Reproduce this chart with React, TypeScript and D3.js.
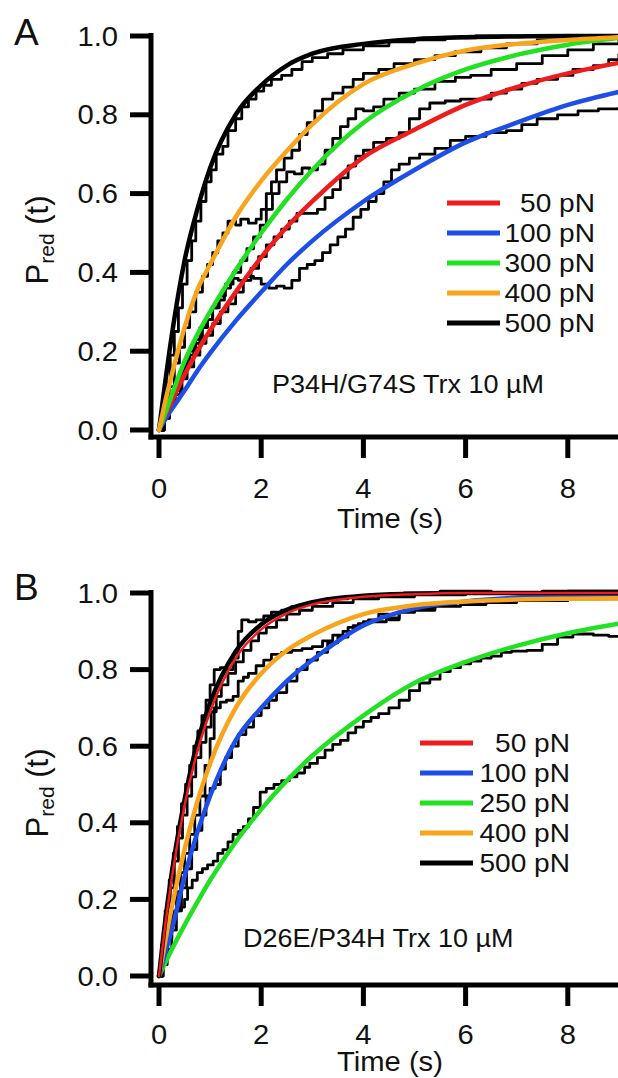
import React from 'react'
import * as d3 from 'd3'

const W = 618
const H = 1078
const FONT = '"Liberation Sans", Arial, Helvetica, sans-serif'

// time grid shared by every fitted curve (s)
const fitTimes = [0, 0.1, 0.25, 0.5, 0.75, 1, 1.5, 2, 2.5, 3, 4, 5, 6, 7, 8, 9]
const yTicks = [0, 0.2, 0.4, 0.6, 0.8, 1.0]
const xTicks = [0, 2, 4, 6, 8]

// ---- panel A: P34H/G74S ----
const labelsA = ['50 pN', '100 pN', '300 pN', '400 pN', '500 pN']
const fitA50 = [0, 0.03, 0.072, 0.14, 0.2, 0.253, 0.35, 0.438, 0.515, 0.58, 0.692, 0.762, 0.825, 0.87, 0.905, 0.932]
const fitA100 = [0, 0.022, 0.053, 0.1, 0.15, 0.195, 0.277, 0.35, 0.42, 0.48, 0.58, 0.66, 0.73, 0.78, 0.825, 0.858]
const fitA300 = [0, 0.035, 0.089, 0.174, 0.242, 0.3, 0.405, 0.5, 0.585, 0.66, 0.78, 0.86, 0.915, 0.952, 0.978, 0.995]
const fitA400 = [0, 0.06, 0.14, 0.26, 0.355, 0.42, 0.54, 0.632, 0.708, 0.776, 0.878, 0.929, 0.963, 0.98, 0.99, 0.997]
const fitA500 = [0, 0.1, 0.24, 0.43, 0.56, 0.665, 0.8, 0.875, 0.925, 0.955, 0.98, 0.992, 0.997, 0.999, 1, 1]

// staircase traces, [time, P]
const traceA500 = [[0,0],[0.08,0.05],[0.15,0.12],[0.22,0.19],[0.3,0.25],[0.38,0.31],[0.46,0.37],[0.55,0.43],[0.64,0.48],[0.72,0.53],[0.82,0.58],[0.92,0.63],[1.02,0.66],[1.12,0.7],[1.25,0.72],[1.35,0.76],[1.5,0.79],[1.62,0.82],[1.75,0.84],[1.9,0.86],[2.05,0.875],[2.2,0.89],[2.4,0.9],[2.6,0.915],[2.8,0.935],[3.0,0.945],[3.3,0.955],[3.6,0.965],[4.0,0.975],[4.5,0.985],[5.0,0.99],[5.6,0.995],[6.2,1.0],[9,1.0]]
const traceA400 = [[0,0],[0.1,0.05],[0.2,0.11],[0.3,0.17],[0.4,0.21],[0.5,0.26],[0.6,0.3],[0.72,0.35],[0.85,0.39],[0.95,0.42],[1.05,0.45],[1.15,0.48],[1.25,0.5],[1.35,0.53],[1.5,0.52],[1.6,0.535],[1.75,0.525],[1.9,0.535],[2.0,0.56],[2.1,0.6],[2.2,0.63],[2.3,0.66],[2.45,0.69],[2.6,0.71],[2.75,0.75],[2.9,0.78],[3.05,0.81],[3.2,0.84],[3.4,0.855],[3.6,0.87],[3.8,0.89],[4.0,0.905],[4.3,0.915],[4.6,0.93],[5.0,0.94],[5.4,0.95],[5.8,0.96],[6.3,0.97],[6.8,0.98],[7.4,0.99],[8,1.0],[9,1.0]]
const traceA300 = [[0,0],[0.1,0.03],[0.2,0.07],[0.32,0.1],[0.45,0.15],[0.55,0.19],[0.68,0.22],[0.8,0.26],[0.92,0.28],[1.05,0.31],[1.18,0.34],[1.3,0.37],[1.45,0.4],[1.6,0.43],[1.72,0.46],[1.85,0.49],[1.98,0.52],[2.1,0.56],[2.22,0.6],[2.35,0.63],[2.5,0.655],[2.65,0.65],[2.8,0.665],[2.95,0.66],[3.1,0.675],[3.25,0.71],[3.4,0.74],[3.55,0.77],[3.7,0.79],[3.85,0.815],[4.0,0.81],[4.2,0.82],[4.4,0.84],[4.7,0.855],[5.0,0.865],[5.4,0.885],[5.8,0.895],[6.1,0.9],[6.5,0.915],[7.0,0.93],[7.5,0.95],[8.0,0.965],[8.5,0.98],[9,0.99]]
const traceA100 = [[0,0],[0.1,0.03],[0.2,0.07],[0.3,0.1],[0.4,0.14],[0.5,0.17],[0.6,0.2],[0.72,0.23],[0.85,0.26],[0.95,0.28],[1.05,0.31],[1.15,0.33],[1.28,0.36],[1.4,0.385],[1.55,0.38],[1.7,0.39],[1.85,0.385],[2.0,0.37],[2.15,0.36],[2.3,0.365],[2.45,0.36],[2.6,0.38],[2.75,0.41],[2.9,0.42],[3.05,0.43],[3.2,0.45],[3.35,0.47],[3.5,0.49],[3.65,0.51],[3.8,0.54],[3.95,0.56],[4.1,0.58],[4.25,0.6],[4.4,0.63],[4.55,0.66],[4.7,0.675],[4.9,0.69],[5.1,0.7],[5.4,0.715],[5.7,0.735],[6.0,0.745],[6.4,0.755],[6.8,0.76],[7.1,0.775],[7.4,0.79],[7.8,0.8],[8.2,0.81],[8.6,0.815],[9,0.82]]
const traceA50 = [[0,0],[0.1,0.03],[0.2,0.06],[0.3,0.09],[0.42,0.13],[0.55,0.16],[0.68,0.19],[0.8,0.22],[0.92,0.24],[1.05,0.27],[1.2,0.3],[1.35,0.32],[1.5,0.35],[1.65,0.38],[1.8,0.41],[1.95,0.44],[2.1,0.47],[2.25,0.49],[2.4,0.51],[2.55,0.53],[2.7,0.55],[2.9,0.55],[3.1,0.56],[3.25,0.59],[3.4,0.61],[3.55,0.64],[3.7,0.67],[3.85,0.695],[4.0,0.71],[4.2,0.73],[4.45,0.74],[4.7,0.755],[4.9,0.79],[5.1,0.815],[5.3,0.83],[5.6,0.835],[5.9,0.84],[6.2,0.84],[6.5,0.855],[6.8,0.865],[7.1,0.88],[7.4,0.89],[7.8,0.9],[8.1,0.915],[8.5,0.925],[8.8,0.94],[9,0.955]]

// ---- panel B: D26E/P34H ----
const labelsB = ['50 pN', '100 pN', '250 pN', '400 pN', '500 pN']
const fitB50 = [0, 0.11, 0.255, 0.445, 0.586, 0.69, 0.83, 0.905, 0.947, 0.97, 0.99, 0.997, 1, 1, 1, 1]
const fitB100 = [0, 0.05, 0.12, 0.26, 0.375, 0.47, 0.615, 0.7, 0.77, 0.825, 0.915, 0.96, 0.978, 0.988, 0.994, 0.997]
const fitB250 = [0, 0.028, 0.069, 0.133, 0.193, 0.25, 0.35, 0.435, 0.51, 0.575, 0.68, 0.765, 0.82, 0.862, 0.895, 0.92]
const fitB400 = [0, 0.075, 0.18, 0.33, 0.455, 0.555, 0.7, 0.79, 0.85, 0.89, 0.945, 0.968, 0.978, 0.983, 0.985, 0.986]
const fitB500 = [0, 0.12, 0.27, 0.46, 0.61, 0.713, 0.847, 0.918, 0.956, 0.976, 0.993, 0.998, 1, 1, 1, 1]

const traceB500 = [[0,0],[0.05,0.08],[0.12,0.17],[0.2,0.25],[0.28,0.32],[0.36,0.39],[0.44,0.45],[0.52,0.5],[0.6,0.55],[0.68,0.6],[0.76,0.64],[0.84,0.68],[0.92,0.72],[1.0,0.76],[1.08,0.8],[1.2,0.805],[1.32,0.8],[1.45,0.83],[1.55,0.9],[1.62,0.93],[1.75,0.925],[1.9,0.93],[2.05,0.94],[2.2,0.95],[2.4,0.955],[2.6,0.965],[2.8,0.97],[3.0,0.975],[3.3,0.985],[3.7,0.99],[4.2,0.995],[4.8,1.0],[5.5,1.005],[6.5,1.0],[7.5,1.005],[9,1.0]]
const traceB50 = [[0,0],[0.06,0.07],[0.14,0.15],[0.22,0.23],[0.3,0.3],[0.38,0.36],[0.46,0.42],[0.55,0.47],[0.64,0.52],[0.72,0.57],[0.82,0.61],[0.92,0.65],[1.02,0.69],[1.12,0.73],[1.22,0.76],[1.35,0.79],[1.5,0.82],[1.65,0.85],[1.8,0.875],[1.95,0.895],[2.1,0.91],[2.3,0.93],[2.5,0.945],[2.75,0.955],[3.0,0.965],[3.4,0.975],[3.8,0.985],[4.3,0.99],[5,0.995],[6,1.0],[7,1.0],[8,1.005],[9,1.0]]
const traceB400 = [[0,0],[0.08,0.04],[0.16,0.1],[0.25,0.16],[0.34,0.22],[0.42,0.27],[0.5,0.32],[0.6,0.37],[0.7,0.42],[0.8,0.47],[0.9,0.55],[1.0,0.62],[1.08,0.7],[1.2,0.715],[1.32,0.72],[1.45,0.73],[1.55,0.77],[1.65,0.78],[1.75,0.79],[1.9,0.81],[2.05,0.825],[2.2,0.84],[2.4,0.845],[2.6,0.85],[2.8,0.855],[3.0,0.86],[3.2,0.875],[3.4,0.89],[3.6,0.9],[3.8,0.915],[4.0,0.925],[4.2,0.925],[4.45,0.935],[4.7,0.95],[5.0,0.955],[5.4,0.965],[5.9,0.97],[6.4,0.975],[7.0,0.98],[8.0,0.985],[9,0.985]]
const traceB100 = [[0,0],[0.08,0.03],[0.16,0.07],[0.25,0.12],[0.34,0.17],[0.44,0.23],[0.54,0.28],[0.64,0.33],[0.74,0.38],[0.84,0.42],[0.92,0.47],[1.0,0.49],[1.1,0.5],[1.2,0.54],[1.3,0.57],[1.42,0.6],[1.55,0.63],[1.7,0.65],[1.85,0.68],[2.0,0.7],[2.15,0.72],[2.3,0.74],[2.5,0.77],[2.7,0.8],[2.9,0.825],[3.1,0.845],[3.3,0.87],[3.5,0.885],[3.7,0.91],[3.9,0.92],[4.1,0.93],[4.3,0.945],[4.5,0.93],[4.7,0.95],[5.0,0.96],[5.4,0.97],[5.8,0.975],[6.2,0.98],[6.8,0.985],[7.6,0.99],[8.5,0.995],[9,0.995]]
const traceB250 = [[0,0],[0.05,0.04],[0.1,0.08],[0.16,0.12],[0.22,0.16],[0.3,0.17],[0.4,0.18],[0.5,0.2],[0.56,0.23],[0.65,0.25],[0.75,0.27],[0.85,0.28],[0.95,0.29],[1.06,0.3],[1.15,0.32],[1.25,0.33],[1.35,0.35],[1.45,0.37],[1.55,0.38],[1.65,0.39],[1.75,0.41],[1.85,0.44],[1.98,0.48],[2.1,0.49],[2.25,0.5],[2.4,0.51],[2.55,0.52],[2.7,0.53],[2.85,0.545],[2.95,0.555],[3.1,0.57],[3.25,0.59],[3.4,0.605],[3.55,0.615],[3.7,0.635],[3.85,0.65],[4.0,0.665],[4.15,0.675],[4.3,0.685],[4.5,0.7],[4.7,0.72],[4.9,0.745],[5.1,0.765],[5.3,0.775],[5.5,0.795],[5.7,0.805],[5.9,0.815],[6.1,0.822],[6.3,0.83],[6.5,0.835],[6.7,0.845],[6.9,0.848],[7.2,0.85],[7.5,0.866],[7.8,0.885],[8.1,0.893],[8.5,0.89],[8.8,0.887],[9,0.885]]

const seriesColors = ['#ee1c1c', '#1d4fe8', '#22e022', '#f8a51e', '#000000']

const panels = [
  {
    letter: 'A', letterY: 45, yTop: 36, yZero: 430, xAxisGap: 7, tickLabelDy: 61, titleDy: 91,
    note: 'P34H/G74S Trx 10 \u00b5M', noteX: 272, noteY: 393,
    legendX: 447, legendY: 203, legendTextX: 595, labelY: 240,
    labels: labelsA, fits: [fitA50, fitA100, fitA300, fitA400, fitA500],
    traces: [traceA50, traceA100, traceA300, traceA400, traceA500],
    fitOrder: [4, 1, 0, 2, 3], redWidth: 4.5,
  },
  {
    letter: 'B', letterY: 600, yTop: 593, yZero: 976, xAxisGap: 9, tickLabelDy: 59, titleDy: 86,
    note: 'D26E/P34H Trx 10 \u00b5M', noteX: 243, noteY: 947,
    legendX: 420, legendY: 743, legendTextX: 570, labelY: 793,
    labels: labelsB, fits: [fitB50, fitB100, fitB250, fitB400, fitB500],
    traces: [traceB50, traceB100, traceB250, traceB400, traceB500],
    fitOrder: [2, 1, 3, 4, 0], redWidth: 2.5,
  },
]

const x = d3.scaleLinear().domain([0, 9]).range([159, 159 + 9 * 51.1])

// the source figure's lettering is slightly wider than the installed Arial metrics
const wide = (cx: number, cy: number) => `translate(${cx},${cy}) scale(1.08,1) translate(${-cx},${-cy})`

function Panel({ p }: { p: any }) {
  const y = d3.scaleLinear().domain([0, 1]).range([p.yZero, p.yTop])
  const fitLine = d3.line<number>()
    .x((_, i) => x(fitTimes[i]))
    .y(d => y(d))
    .curve(d3.curveMonotoneX)
  const stepLine = d3.line<number[]>()
    .x(d => x(d[0]))
    .y(d => y(d[1]))
    .curve(d3.curveStepAfter)
  const axisX = x(0) - 8
  const axisY = p.yZero + p.xAxisGap

  return (
    <g fontFamily={FONT} fill="#111">
      {/* data traces */}
      {p.traces.map((tr: number[][], i: number) => (
        <path key={'t' + i} d={stepLine(tr) || ''} fill="none" stroke="#000" strokeWidth={2.8} strokeLinejoin="round" />
      ))}
      {/* fits */}
      {p.fitOrder.map((i: number) => (
        <path key={'f' + i} d={fitLine(p.fits[i]) || ''} fill="none" stroke={seriesColors[i]}
          strokeWidth={i === 0 ? p.redWidth : 4.5} strokeLinecap="round" />
      ))}

      {/* y axis */}
      <line x1={axisX} x2={axisX} y1={p.yTop - 3} y2={axisY + 2.5} stroke="#000" strokeWidth={5} />
      {yTicks.map(t => (
        <g key={'y' + t}>
          <line x1={axisX - 21} x2={axisX} y1={y(t)} y2={y(t)} stroke="#000" strokeWidth={5} />
          <text x={118} y={y(t) + 9.7} fontSize={27} textAnchor="end" transform={wide(118, y(t))}>
            {d3.format('.1f')(t)}
          </text>
        </g>
      ))}
      {/* x axis */}
      <line x1={axisX - 2.5} x2={W + 2} y1={axisY} y2={axisY} stroke="#000" strokeWidth={5} />
      {xTicks.map(t => (
        <g key={'x' + t}>
          <line x1={x(t)} x2={x(t)} y1={axisY} y2={axisY + 21} stroke="#000" strokeWidth={5} />
          <text x={x(t)} y={axisY + p.tickLabelDy} fontSize={27} textAnchor="middle"
            transform={wide(x(t), axisY)}>{t}</text>
        </g>
      ))}
      <text x={390} y={axisY + p.titleDy} fontSize={27} textAnchor="middle"
        transform={wide(390, axisY)}>Time (s)</text>

      {/* y label */}
      <text transform={`translate(48,${p.labelY}) rotate(-90)`} fontSize={31} textAnchor="middle">
        P<tspan fontSize={21} dy={6}>red</tspan><tspan dy={-6}> (t)</tspan>
      </text>

      <text x={14} y={p.letterY} fontSize={37}>{p.letter}</text>
      <text x={p.noteX} y={p.noteY} fontSize={25} transform={wide(p.noteX, p.noteY)}>{p.note}</text>

      {/* legend */}
      {p.labels.map((lab: string, i: number) => (
        <g key={'l' + i}>
          <line x1={p.legendX} x2={p.legendX + 53} y1={p.legendY + i * 30} y2={p.legendY + i * 30}
            stroke={seriesColors[i]} strokeWidth={5} />
          <text x={p.legendTextX} y={p.legendY + i * 30 + 9.5} fontSize={26} textAnchor="end"
            transform={wide(p.legendTextX, p.legendY)}>{lab}</text>
        </g>
      ))}
    </g>
  )
}

export default function App() {
  return (
    <svg width={W} height={H} style={{ position: 'absolute', left: 0, top: 0, background: '#fff' }}>
      <rect width={W} height={H} fill="#fff" />
      {panels.map(p => <Panel key={p.letter} p={p} />)}
    </svg>
  )
}
